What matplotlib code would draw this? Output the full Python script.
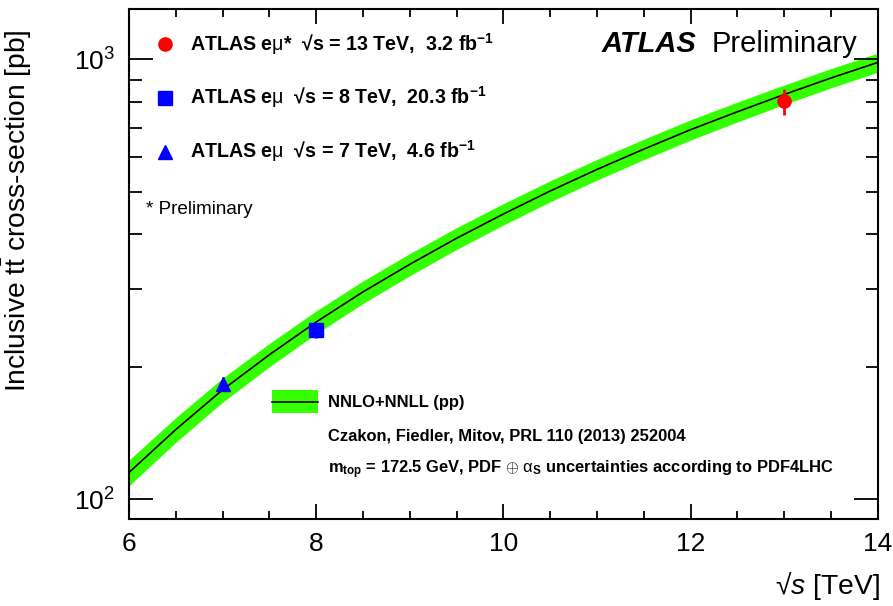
import numpy as np
import matplotlib
matplotlib.use("Agg")
import matplotlib.pyplot as plt
from matplotlib.ticker import FixedLocator, MultipleLocator, LogLocator, NullFormatter, FuncFormatter

plt.rcParams['font.family'] = ['Liberation Sans', 'DejaVu Sans']
plt.rcParams['mathtext.fontset'] = 'custom'
plt.rcParams['mathtext.rm'] = 'Liberation Sans'
plt.rcParams['mathtext.it'] = 'Liberation Sans:italic'
plt.rcParams['mathtext.bf'] = 'Liberation Sans:bold'

# NNLO+NNLL prediction (pb) vs centre-of-mass energy (TeV)
sqrt_s_theory = [6.0, 6.5, 7.0, 7.5, 8.0, 8.5, 9.0, 9.5, 10.0,
                 10.5, 11.0, 11.5, 12.0, 12.5, 13.0, 13.5, 14.0]
xsec_theory = [115, 144, 177.3, 213, 252.9, 296, 342, 392, 445,
               502, 562, 625, 692, 760, 832, 907, 984]
# relative total uncertainty of the prediction (%)
unc_theory_pct = [6.7, 6.5, 6.3, 6.1, 6.0, 5.9, 5.8, 5.7, 5.6,
                  5.5, 5.4, 5.35, 5.3, 5.2, 5.1, 5.05, 5.0]

# ATLAS e-mu measurements
meas_sqrt_s = [13.0, 8.0, 7.0]
meas_xsec = [803, 242.4, 182.9]
meas_err = [55, 9.5, 7.1]
meas_labels = [r"ATLAS e$\mathrm{\mu}$*  √s = 13 TeV,  3.2 fb$^{\mathbf{-1}}$",
               r"ATLAS e$\mathrm{\mu}$  √s = 8 TeV,  20.3 fb$^{\mathbf{-1}}$",
               r"ATLAS e$\mathrm{\mu}$  √s = 7 TeV,  4.6 fb$^{\mathbf{-1}}$"]
meas_markers = ['o', 's', '^']
meas_colors = ['#ff0000', '#0000ff', '#0000ff']

x_ticks = [6, 8, 10, 12, 14]

fig = plt.figure(figsize=(8.93, 6.06), dpi=100)
ax = fig.add_axes([0.1445, 0.1431, 0.8384, 0.8416])

xt = np.array(sqrt_s_theory)
yt = np.array(xsec_theory)
rel = np.array(unc_theory_pct) / 100.0
band_color = '#33ff00'
ax.fill_between(xt, yt * (1 - rel), yt * (1 + rel), color=band_color, lw=0, zorder=1)
ax.plot(xt, yt, color='black', lw=1.2, zorder=2)

for x, y, e, m, c in zip(meas_sqrt_s, meas_xsec, meas_err, meas_markers, meas_colors):
    ax.errorbar([x], [y], yerr=[e], fmt=m, color=c, ms=9.5, elinewidth=2,
                capsize=0, mec=c, zorder=5)

ax.set_yscale('log')
ax.set_xlim(6, 14)
ax.set_ylim(90, 1300)

ax.xaxis.set_major_locator(FixedLocator(x_ticks))
ax.xaxis.set_minor_locator(MultipleLocator(0.5))
ax.yaxis.set_major_locator(LogLocator(base=10, numticks=10))
ax.yaxis.set_minor_locator(LogLocator(base=10, subs=np.arange(2, 10), numticks=20))
ax.yaxis.set_minor_formatter(NullFormatter())
ax.yaxis.set_major_formatter(FuncFormatter(lambda v, p: r"$10^{%d}$" % round(np.log10(v))))

ax.tick_params(which='both', direction='in', top=True, right=True, labelsize=19, width=1.3)
ax.tick_params(axis='x', which='major', length=11, pad=9)
ax.tick_params(axis='x', which='minor', length=5.5)
ax.tick_params(axis='y', which='major', length=17, pad=10)
ax.tick_params(axis='y', which='minor', length=9)
for sp in ax.spines.values():
    sp.set_linewidth(1.5)

ax.set_ylabel(r"Inclusive t$\bar{\mathrm{t}}$ cross-section [pb]", fontsize=20.3)
ax.yaxis.set_label_coords(-0.127, 0.606)
fig.text(0.985, 0.006, r"√$s$ [TeV]", fontsize=20.3, ha='right', va='bottom')

# legend for measurements, placed by hand in figure pixel space
def px(xp, yp):
    return ((xp) / 893.0, 1 - yp / 606.0)

rows_y = [44, 97.5, 151.5]
for yrow, lab, m, c in zip(rows_y, meas_labels, meas_markers, meas_colors):
    fx, fy = px(165, yrow)
    fig.add_artist(plt.Line2D([fx], [fy], marker=m, color=c, ms=9.5, transform=fig.transFigure))
    tx, ty = px(190, yrow)
    fig.text(tx, ty, lab, fontsize=14.1, fontweight='bold', va='center', ha='left')

tx, ty = px(146, 210)
fig.text(tx, ty, "* Preliminary", fontsize=13.6, va='center', ha='left')

tx, ty = px(602, 44)
fig.text(tx, ty, "ATLAS", fontsize=21, fontweight='bold', fontstyle='italic',
         va='center', ha='left')
tx2, _ = px(712, 44)
fig.text(tx2, ty, "Preliminary", fontsize=21, va='center', ha='left')

# theory legend
x0, y0 = px(272, 413)
x1, y1 = px(318, 390)
fig.add_artist(plt.Rectangle((x0, y0), x1 - x0, y1 - y0, color=band_color, lw=0,
                             transform=fig.transFigure))
lx0, ly = px(272, 401.5)
lx1, _ = px(318, 401.5)
fig.add_artist(plt.Line2D([lx0, lx1], [ly, ly], color='black', lw=1.2, transform=fig.transFigure))
tx, ty = px(328, 402)
fig.text(tx, ty, "NNLO+NNLL (pp)", fontsize=11.9, fontweight='bold', va='center', ha='left')
tx, ty = px(328, 436.5)
fig.text(tx, ty, "Czakon, Fiedler, Mitov, PRL 110 (2013) 252004", fontsize=11.9,
         fontweight='bold', va='center', ha='left')
tx, ty = px(328, 469.5)
fig.text(tx, ty, r"m$_{\mathbf{top}}$ = 172.5 GeV, PDF $\oplus$ $\mathrm{\alpha}_{\mathbf{S}}$ uncertainties according to PDF4LHC",
         fontsize=11.9, fontweight='bold', va='center', ha='left')

fig.savefig("out.png", dpi=100)
